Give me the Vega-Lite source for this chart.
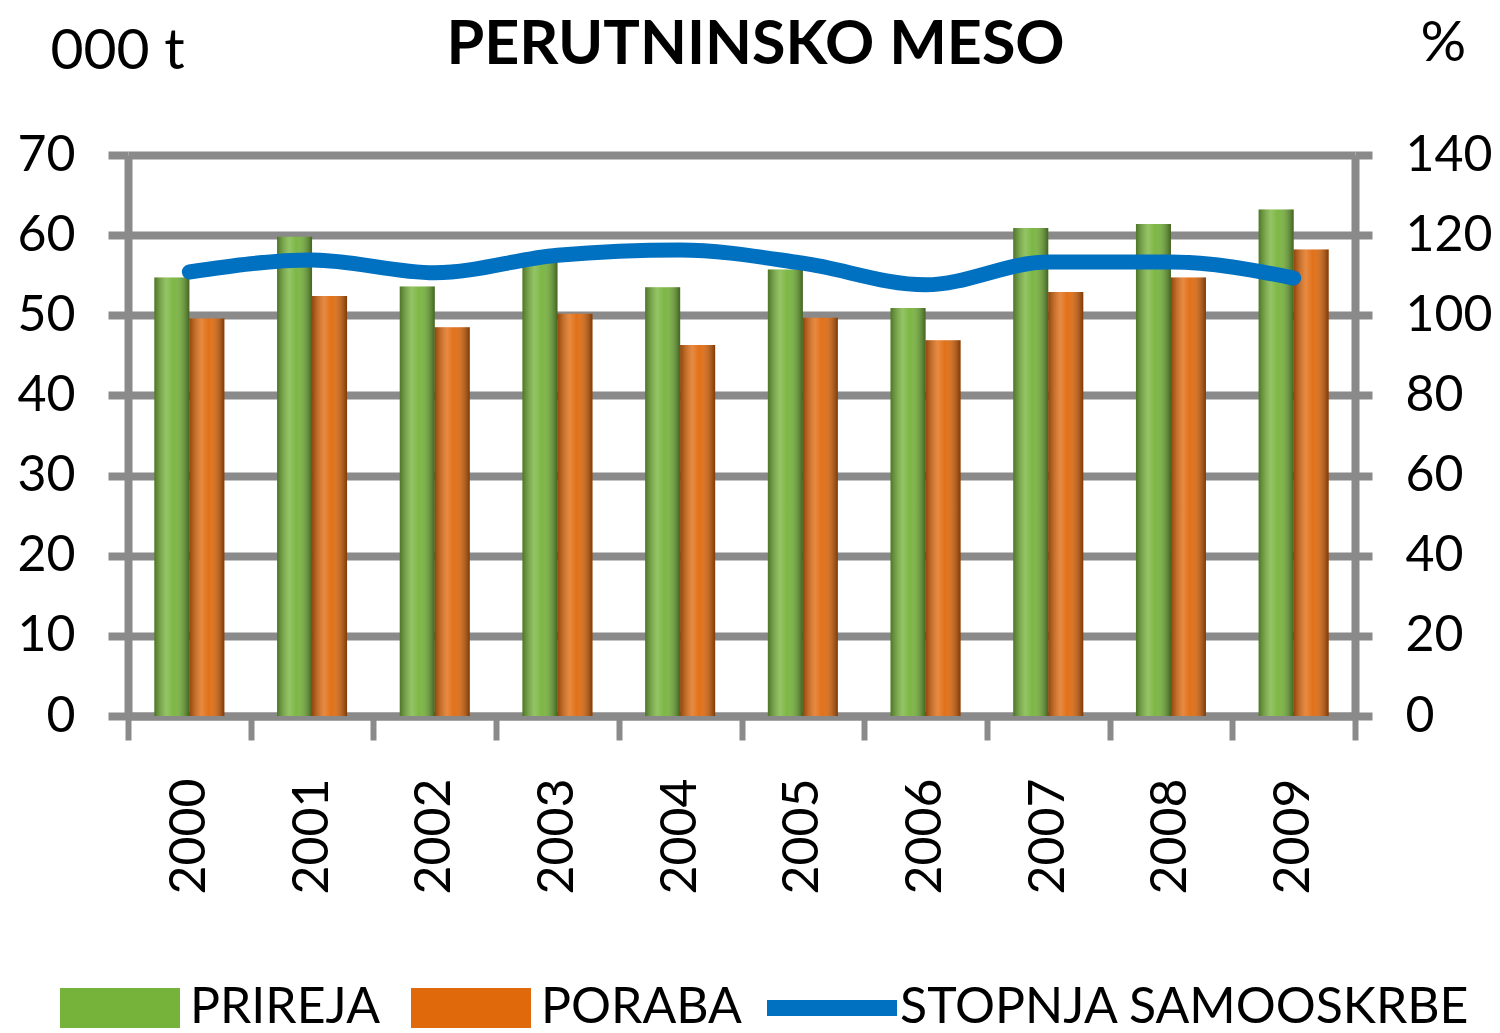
{
  "$schema": "https://vega.github.io/schema/vega-lite/v6.json",
  "width": 1227,
  "height": 561,
  "autosize": {"type": "none"},
  "padding": {"left": 128, "top": 155, "right": 145, "bottom": 317},
  "background": "white",
  "config": {
    "font": "Lato",
    "view": {"stroke": null}
  },
  "datasets": {
    "bars": [
      {"year": "2000", "series": "PRIREJA", "value": 54.7},
      {"year": "2000", "series": "PORABA", "value": 49.6},
      {"year": "2001", "series": "PRIREJA", "value": 59.8},
      {"year": "2001", "series": "PORABA", "value": 52.4},
      {"year": "2002", "series": "PRIREJA", "value": 53.6},
      {"year": "2002", "series": "PORABA", "value": 48.5},
      {"year": "2003", "series": "PRIREJA", "value": 56.7},
      {"year": "2003", "series": "PORABA", "value": 50.2},
      {"year": "2004", "series": "PRIREJA", "value": 53.5},
      {"year": "2004", "series": "PORABA", "value": 46.3},
      {"year": "2005", "series": "PRIREJA", "value": 55.7},
      {"year": "2005", "series": "PORABA", "value": 49.7},
      {"year": "2006", "series": "PRIREJA", "value": 50.9},
      {"year": "2006", "series": "PORABA", "value": 46.9},
      {"year": "2007", "series": "PRIREJA", "value": 60.9},
      {"year": "2007", "series": "PORABA", "value": 52.9},
      {"year": "2008", "series": "PRIREJA", "value": 61.4},
      {"year": "2008", "series": "PORABA", "value": 54.7},
      {"year": "2009", "series": "PRIREJA", "value": 63.2},
      {"year": "2009", "series": "PORABA", "value": 58.2}
    ],
    "line": [
      {"year": "2000", "series": "STOPNJA SAMOOSKRBE", "pct": 110.8},
      {"year": "2001", "series": "STOPNJA SAMOOSKRBE", "pct": 113.8},
      {"year": "2002", "series": "STOPNJA SAMOOSKRBE", "pct": 110.6},
      {"year": "2003", "series": "STOPNJA SAMOOSKRBE", "pct": 115.0},
      {"year": "2004", "series": "STOPNJA SAMOOSKRBE", "pct": 116.3},
      {"year": "2005", "series": "STOPNJA SAMOOSKRBE", "pct": 113.0},
      {"year": "2006", "series": "STOPNJA SAMOOSKRBE", "pct": 107.6},
      {"year": "2007", "series": "STOPNJA SAMOOSKRBE", "pct": 113.3},
      {"year": "2008", "series": "STOPNJA SAMOOSKRBE", "pct": 113.3},
      {"year": "2009", "series": "STOPNJA SAMOOSKRBE", "pct": 109.3}
    ]
  },
  "layer": [
    {
      "data": {"name": "bars"},
      "encoding": {
        "x": {
          "field": "year",
          "type": "nominal",
          "scale": {"paddingInner": 0, "paddingOuter": 0},
          "axis": {
            "title": null,
            "tickBand": "extent",
            "labelAngle": -90,
            "labelFontSize": 50,
            "labelColor": "black",
            "labelPadding": 38,
            "tickSize": 24,
            "tickWidth": 6,
            "tickColor": "#8a8a8a",
            "domainColor": "#8a8a8a",
            "domainWidth": 8,
            "grid": false
          }
        },
        "xOffset": {"field": "series", "type": "nominal", "sort": ["PRIREJA", "PORABA"], "scale": {"paddingInner": 0, "paddingOuter": 0.753}},
        "y": {
          "field": "value",
          "type": "quantitative",
          "scale": {"domain": [0, 70], "nice": false},
          "axis": {
            "orient": "left",
            "values": [0, 10, 20, 30, 40, 50, 60, 70],
            "title": "000 t",
            "titleAngle": 0,
            "titleX": -78,
            "titleY": -87,
            "titleAlign": "left",
            "titleBaseline": "alphabetic",
            "titleFontSize": 57,
            "titleFontWeight": "normal",
            "titleColor": "black",
            "labelFontSize": 50,
            "labelColor": "black",
            "labelPadding": 33,
            "tickSize": 20,
            "tickWidth": 8,
            "tickColor": "#8a8a8a",
            "domainColor": "#8a8a8a",
            "domainWidth": 8,
            "grid": true,
            "gridColor": "#8a8a8a",
            "gridWidth": 8,
            "gridOpacity": 1
          }
        }
      },
      "layer": [
        {
          "mark": {"type": "bar"},
          "encoding": {
            "fill": {
              "field": "series",
              "type": "nominal",
              "scale": {"domain": ["PRIREJA", "PORABA"], "range": ["#76b33a", "#e0690c"]},
              "legend": {
                "title": null,
                "orient": "none",
                "direction": "horizontal",
                "legendX": -48,
                "legendY": 813,
                "symbolType": "M-1.5,-0.5H1.5V0.5H-1.5Z",
                "symbolSize": 6400,
                "symbolStrokeWidth": 0,
                "symbolOpacity": 1,
                "labelFontSize": 50,
                "labelColor": "black",
                "labelOffset": 30,
                "columnPadding": 30,
                "labelLimit": 400
              }
            }
          }
        },
        {
          "mark": {
            "type": "bar",
            "color": {
              "gradient": "linear",
              "x1": 0, "x2": 1, "y1": 0, "y2": 0,
              "stops": [
                {"offset": 0, "color": "rgba(0,0,0,0.35)"},
                {"offset": 0.35, "color": "rgba(255,255,255,0.22)"},
                {"offset": 0.55, "color": "rgba(255,255,255,0.05)"},
                {"offset": 1, "color": "rgba(0,0,0,0.45)"}
              ]
            }
          }
        }
      ]
    },
    {
      "data": {"name": "line"},
      "mark": {"type": "line", "strokeWidth": 15, "strokeCap": "round", "strokeJoin": "round", "interpolate": "monotone"},
      "encoding": {
        "x": {
          "field": "year",
          "type": "nominal",
          "axis": {
            "orient": "top",
            "title": "PERUTNINSKO MESO",
            "titleFontSize": 61,
            "titleFontWeight": "bold",
            "titleColor": "black",
            "titleX": 627,
            "titleY": -92,
            "titleAlign": "center",
            "titleBaseline": "alphabetic",
            "labels": false,
            "ticks": false,
            "domain": false,
            "grid": false
          }
        },
        "y": {
          "field": "pct",
          "type": "quantitative",
          "scale": {"domain": [0, 140], "nice": false},
          "axis": {
            "orient": "right",
            "values": [0, 20, 40, 60, 80, 100, 120, 140],
            "title": "%",
            "titleAngle": 0,
            "titleX": 65,
            "titleY": -95,
            "titleAlign": "left",
            "titleBaseline": "alphabetic",
            "titleFontSize": 57,
            "titleFontWeight": "normal",
            "titleColor": "black",
            "labelFontSize": 50,
            "labelColor": "black",
            "labelPadding": 33,
            "tickSize": 17,
            "tickWidth": 8,
            "tickColor": "#8a8a8a",
            "domainColor": "#8a8a8a",
            "domainWidth": 8,
            "grid": false
          }
        },
        "stroke": {
          "field": "series",
          "type": "nominal",
          "scale": {"range": ["#0070c0"]},
          "legend": {
            "title": null,
            "orient": "none",
            "legendX": 631,
            "legendY": 780,
            "symbolType": "stroke",
            "symbolSize": 16900,
            "symbolStrokeWidth": 16,
            "labelFontSize": 50,
            "labelColor": "black",
            "labelOffset": -5,
            "labelLimit": 600
          }
        }
      }
    }
  ],
  "resolve": {"scale": {"y": "independent"}, "axis": {"x": "independent"}}
}
